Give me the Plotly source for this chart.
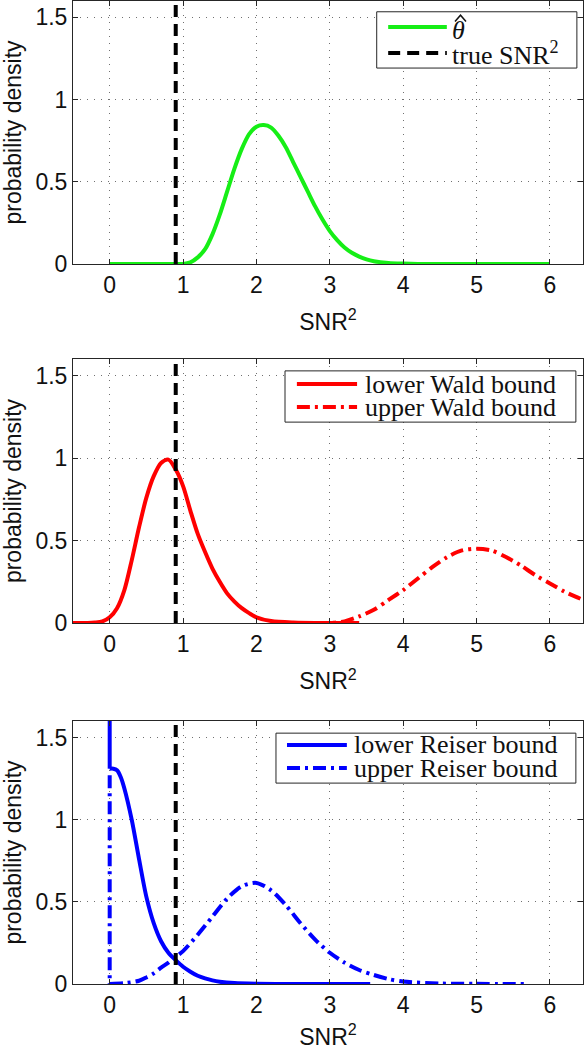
import plotly.graph_objects as go

# ---------------- data ----------------
true_snr2 = 0.9

theta_x = [0.0, 0.9, 1.0, 1.1, 1.2, 1.3, 1.4, 1.5, 1.6, 1.7, 1.8, 1.9, 2.0, 2.1, 2.2, 2.3,
           2.4, 2.5, 2.6, 2.7, 2.8, 2.9, 3.0, 3.1, 3.2, 3.3, 3.4, 3.5, 3.6, 3.8, 4.0, 4.2, 5.0, 6.0]
theta_y = [0.0, 0.0, 0.0, 0.01, 0.04, 0.09, 0.18, 0.30, 0.44, 0.58, 0.70, 0.79, 0.835, 0.845, 0.83, 0.78,
           0.71, 0.62, 0.53, 0.44, 0.35, 0.27, 0.20, 0.145, 0.10, 0.068, 0.045, 0.028, 0.017, 0.006, 0.002, 0.0, 0.0, 0.0]

wald_lo_x = [-0.5, -0.3, -0.2, -0.1, 0.0, 0.1, 0.2, 0.3, 0.4, 0.5, 0.6, 0.7, 0.8, 0.9, 1.0, 1.1,
             1.2, 1.3, 1.4, 1.5, 1.6, 1.7, 1.8, 1.9, 2.0, 2.2, 2.5, 3.0, 3.4]
wald_lo_y = [0.0, 0.0, 0.003, 0.01, 0.035, 0.09, 0.20, 0.38, 0.58, 0.76, 0.89, 0.97, 0.99, 0.93, 0.83, 0.68,
             0.54, 0.43, 0.33, 0.25, 0.18, 0.13, 0.09, 0.06, 0.035, 0.012, 0.003, 0.0, 0.0]

wald_hi_x = [2.8, 3.0, 3.2, 3.4, 3.6, 3.8, 4.0, 4.2, 4.4, 4.6, 4.8, 5.0, 5.2, 5.4, 5.6, 5.8, 6.0, 6.2, 6.4, 6.5]
wald_hi_y = [0.0, 0.0, 0.01, 0.04, 0.08, 0.14, 0.20, 0.27, 0.34, 0.40, 0.44, 0.45, 0.44, 0.40, 0.35, 0.29, 0.24, 0.19, 0.15, 0.13]

reiser_lo_x = [0.0, 0.0, 0.05, 0.1, 0.15, 0.2, 0.3, 0.4, 0.5, 0.6, 0.7, 0.8, 0.9, 1.0, 1.1, 1.2,
               1.3, 1.4, 1.5, 1.7, 2.0, 2.5, 3.0, 3.55]
reiser_lo_y = [1.7, 1.31, 1.31, 1.30, 1.26, 1.19, 1.0, 0.76, 0.53, 0.37, 0.26, 0.19, 0.145, 0.105, 0.075, 0.05,
               0.034, 0.022, 0.014, 0.006, 0.002, 0.0, 0.0, 0.0]

reiser_hi_x = [0.0, 0.0, 0.2, 0.4, 0.5, 0.6, 0.7, 0.8, 0.9, 1.0, 1.2, 1.4, 1.6, 1.8, 2.0, 2.2,
               2.4, 2.6, 2.8, 3.0, 3.2, 3.4, 3.6, 3.8, 4.0, 4.5, 5.0, 5.7]
reiser_hi_y = [1.27, 0.0, 0.005, 0.02, 0.04, 0.065, 0.10, 0.13, 0.165, 0.20, 0.30, 0.41, 0.52, 0.595, 0.615, 0.57,
               0.48, 0.37, 0.27, 0.19, 0.13, 0.085, 0.055, 0.03, 0.015, 0.003, 0.001, 0.0]

x_ticks = [0, 1, 2, 3, 4, 5, 6]
y_ticks = [0, 0.5, 1, 1.5]
y_tick_text = ["0", "0.5", "1", "1.5"]

legend1 = ["<i>θ</i>", "true SNR<sup>2</sup>"]
legend2 = ["lower Wald bound", "upper Wald bound"]
legend3 = ["lower Reiser bound", "upper Reiser bound"]

# ---------------- styling ----------------
GREEN = "#16ee16"
RED = "#ff0000"
BLUE = "#0000ff"
BLACK = "#000000"
AXC = "#262626"
LW = 4
DASH = "12px,7px"
DASHDOT = "13px,5px,3px,5px"
TICKFONT = dict(family="Liberation Sans, Arial, sans-serif", size=23, color="#111")
LEGFONT = dict(family="Liberation Serif, Times New Roman, serif", size=26, color="#111")

fig = go.Figure()

def add_line(x, y, color, dash, ax, shape="spline"):
    xa = "x" if ax == 1 else f"x{ax}"
    ya = "y" if ax == 1 else f"y{ax}"
    fig.add_trace(go.Scatter(x=x, y=y, mode="lines", xaxis=xa, yaxis=ya, showlegend=False,
                             line=dict(color=color, width=LW, dash=dash, shape=shape, smoothing=0.8),
                             hoverinfo="skip"))

# plot 1
add_line(theta_x, theta_y, GREEN, "solid", 1)
add_line([true_snr2, true_snr2], [0, 1.6], BLACK, DASH, 1, "linear")
# plot 2
add_line(wald_lo_x, wald_lo_y, RED, "solid", 2)
add_line(wald_hi_x, wald_hi_y, RED, DASHDOT, 2)
add_line([true_snr2, true_snr2], [0, 1.6], BLACK, DASH, 2, "linear")
# plot 3 (vertical spike at 0 drawn straight, the rest smoothed)
add_line(reiser_lo_x[:2], reiser_lo_y[:2], BLUE, "solid", 3, "linear")
add_line(reiser_lo_x[1:], reiser_lo_y[1:], BLUE, "solid", 3)
add_line(reiser_hi_x[:2], reiser_hi_y[:2], BLUE, DASHDOT, 3, "linear")
add_line(reiser_hi_x[1:], reiser_hi_y[1:], BLUE, DASHDOT, 3)
add_line([true_snr2, true_snr2], [0, 1.6], BLACK, DASH, 3, "linear")

domains = [[0.7325, 1.0], [0.3672, 0.6358], [0.0, 0.2675]]

axis_common = dict(showline=True, mirror="ticks", linecolor=AXC, linewidth=1,
                   ticks="inside", ticklen=5, tickcolor=AXC, tickwidth=1,
                   showgrid=True, gridcolor="#707070", griddash="1px,6px", gridwidth=1,
                   zeroline=False, tickfont=TICKFONT, automargin=False)

layout = dict(width=588, height=1050, margin=dict(l=73, r=5, t=1, b=66),
              plot_bgcolor="white", paper_bgcolor="white", showlegend=False)
for i in range(3):
    k = "" if i == 0 else str(i + 1)
    layout["xaxis" + k] = dict(axis_common, domain=[0, 1], range=[-0.5, 6.45],
                               tickvals=x_ticks, anchor="y" + k,
                               title=dict(text="SNR<sup>2</sup>", font=TICKFONT, standoff=17))
    layout["yaxis" + k] = dict(axis_common, domain=domains[i], range=[0, 1.6],
                               tickvals=y_ticks, ticktext=y_tick_text, anchor="x" + k,
                               title=dict(text="probability density", font=TICKFONT, standoff=8))
fig.update_layout(**layout)

# ---------------- legends (boxes, samples, labels) ----------------
legends = [
    dict(ax=1, box=(0.5955, 0.988, 0.745, 0.959), rows=(0.886, 0.802), line=(0.618, 0.733), tx=0.741,
         labels=legend1, styles=[(GREEN, "solid"), (BLACK, DASH)], lrows=(0.901, 0.802)),
    dict(ax=2, box=(0.4157, 0.986, 0.761, 0.955), rows=(0.905, 0.818), line=(0.439, 0.557), tx=0.5705,
         labels=legend2, styles=[(RED, "solid"), (RED, DASHDOT)], lrows=(0.905, 0.818)),
    dict(ax=3, box=(0.398, 0.986, 0.764, 0.954), rows=(0.909, 0.821), line=(0.4196, 0.537), tx=0.549,
         labels=legend3, styles=[(BLUE, "solid"), (BLUE, DASHDOT)], lrows=(0.909, 0.821)),
]
for L in legends:
    k = "" if L["ax"] == 1 else str(L["ax"])
    xr, yr = f"x{k} domain", f"y{k} domain"
    x0, x1, y0, y1 = L["box"]
    fig.add_shape(type="rect", xref=xr, yref=yr, x0=x0, x1=x1, y0=y0, y1=y1,
                  line=dict(color=AXC, width=1), fillcolor="white", layer="above")
    for r, lr, lab, (col, dsh) in zip(L["rows"], L["lrows"], L["labels"], L["styles"]):
        fig.add_shape(type="line", xref=xr, yref=yr, x0=L["line"][0], x1=L["line"][1], y0=lr, y1=lr,
                      line=dict(color=col, width=LW, dash=dsh), layer="above")
        fig.add_annotation(xref=xr, yref=yr, x=L["tx"], y=r, text=lab, showarrow=False,
                           xanchor="left", yanchor="middle", font=LEGFONT, borderpad=0)

# wide hat over theta in the first legend
fig.add_shape(type="path", xref="x domain", yref="y domain",
              path="M 0.7490 0.922 L 0.7598 0.946 L 0.7706 0.922",
              line=dict(color="#111", width=1.5), layer="above")

fig.write_html("out.html", config={"displayModeBar": False},
               post_script="document.body.style.margin='0';document.body.style.overflow='hidden';")
